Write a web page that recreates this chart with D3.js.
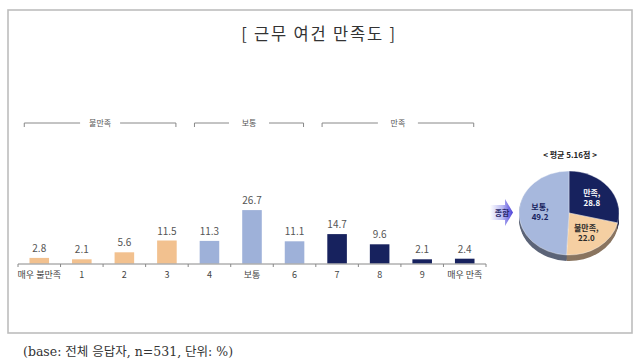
<!DOCTYPE html>
<html><head><meta charset="utf-8">
<script src="https://cdn.jsdelivr.net/npm/d3@7"></script>
<style>body{margin:0;background:#fff}svg{display:block}</style>
</head><body>
<svg id="c" width="640" height="360"></svg>
<script>
const categories = ["매우 불만족","1","2","3","4","보통","6","7","8","9","매우 만족"];
const values = [2.8,2.1,5.6,11.5,11.3,26.7,11.1,14.7,9.6,2.1,2.4];
const groupOf = [0,0,0,0,1,1,1,2,2,2,2];
const groups = [
  {label:"불만족", start:0, end:3},
  {label:"보통", start:4, end:6},
  {label:"만족", start:7, end:10}
];
const pieLabels = ["만족","불만족","보통"];
const pieValues = [28.8,22.0,49.2];
const title = "[ 근무 여건 만족도 ]";
const pieTitle = "< 평균 5.16점 >";
const arrowText = "종합";
const footnote = "(base: 전체 응답자, n=531, 단위: %)";

const barColors = ["#F2C18F","#9EB1D9","#17225E"];
const pieColors = ["#17225E","#F5CFA2","#A7B8DD"];
const pieSide = ["#0e1540","#8a7560","#5c6478"];
const pieText = ["#ffffff","#2a2a2a","#17225E"];
const font = "'Noto Sans CJK KR','Noto Sans',sans-serif";

const svg = d3.select("#c");
// frame
svg.append("rect").attr("x",8).attr("y",10).attr("width",624).attr("height",323)
  .attr("fill","#fff").attr("stroke","#bdbdbd").attr("stroke-width",1.6);

svg.append("text").attr("x",319).attr("y",40).attr("text-anchor","middle")
  .attr("font-family",font).attr("font-size",16.5).attr("fill","#333").attr("letter-spacing",1.8)
  .attr("xml:space","preserve")
  .text(title);

const x = d3.scaleBand().domain(categories).range([18,486]).paddingInner(0.54).paddingOuter(0.27);
const y = d3.scaleLinear().domain([0,30]).range([263.5,203.5]);
const base = 264;

const g = svg.append("g");
g.selectAll("rect.bar").data(values).join("rect")
  .attr("x",(d,i)=>x(categories[i])).attr("width",x.bandwidth())
  .attr("y",d=>y(d)).attr("height",d=>y(0)-y(d))
  .attr("fill",(d,i)=>barColors[groupOf[i]]);

g.selectAll("text.val").data(values).join("text")
  .attr("x",(d,i)=>x(categories[i])+x.bandwidth()/2).attr("y",d=>y(d)-6)
  .attr("text-anchor","middle").attr("font-family",font).attr("font-size",10).attr("fill","#555")
  .text(d=>d.toFixed(1));

// axis
const axis = d3.axisBottom(x).tickSize(0).tickPadding(8);
const ag = svg.append("g").attr("transform",`translate(0,${base})`).call(axis);
ag.select(".domain").attr("stroke","#888").attr("d","M18,0H486");
ag.selectAll("text").attr("font-family",font).attr("font-size",9).attr("fill","#444");
const step = x.step();
const bounds = d3.range(categories.length+1).map(i=>18 + i*step);
ag.selectAll("line.bt").data(bounds).join("line").attr("class","bt")
  .attr("x1",d=>d).attr("x2",d=>d).attr("y1",0).attr("y2",3).attr("stroke","#888");

// group brackets
const by = 123;
groups.forEach(gr=>{
  const x0 = x(categories[gr.start]) + x.bandwidth()/2 - 15;
  const x1 = x(categories[gr.end]) + x.bandwidth()/2 + 9;
  const cx = (x0+x1)/2;
  const gap = 20;
  const bg = svg.append("g").attr("stroke","#888").attr("fill","none").attr("stroke-width",1);
  bg.append("path").attr("d",`M${x0},${by+4}V${by}H${cx-gap}`);
  bg.append("path").attr("d",`M${cx+gap},${by}H${x1}V${by+4}`);
  svg.append("text").attr("x",cx).attr("y",by+3).attr("text-anchor","middle")
    .attr("font-family",font).attr("font-size",8).attr("fill","#555").text(gr.label);
});

// pie
const pcx = 569, pcy = 213, rx = 50, ry = 42, depth = 6;
const pie = d3.pie().sort(null).value(d=>d)(pieValues);
const arc = d3.arc().innerRadius(0).outerRadius(rx);
for(let k=depth;k>=1;k--){
  const lg = svg.append("g").attr("transform",`translate(${pcx},${pcy+k}) scale(1,${ry/rx})`);
  lg.selectAll("path").data(pie).join("path").attr("d",arc).attr("fill",(d,i)=>pieSide[i]);
}
const pieTop = svg.append("g").attr("transform",`translate(${pcx},${pcy}) scale(1,${ry/rx})`);
pieTop.selectAll("path").data(pie).join("path").attr("d",arc).attr("fill",(d,i)=>pieColors[i])
  .attr("stroke","#ffffff").attr("stroke-width",0.4);
const larc = d3.arc().innerRadius(29).outerRadius(29);
pie.forEach((d,i)=>{
  const c = larc.centroid(d);
  const lx = pcx+c[0], ly = pcy+c[1]*ry/rx;
  [pieLabels[i]+",", pieValues[i].toFixed(1)].forEach((s,j)=>{
    svg.append("text").attr("x",lx).attr("y",ly-2+j*10)
      .attr("text-anchor","middle").attr("font-family",font).attr("font-size",8)
      .attr("font-weight","bold").attr("fill",pieText[i]).text(s);
  });
});
svg.append("text").attr("x",570).attr("y",158).attr("text-anchor","middle")
  .attr("font-family",font).attr("font-size",8).attr("font-weight","bold").attr("fill","#222")
  .text(pieTitle);

// arrow
const defs = svg.append("defs");
const grad = defs.append("linearGradient").attr("id","ag").attr("x1","0%").attr("x2","100%");
grad.append("stop").attr("offset","0%").attr("stop-color","#ffffff");
grad.append("stop").attr("offset","55%").attr("stop-color","#b8b8f2");
grad.append("stop").attr("offset","100%").attr("stop-color","#4b3fd8");
svg.append("path").attr("d","M490,205H505V199L513,212.5L505,226V220H490Z").attr("fill","url(#ag)");
svg.append("text").attr("x",502).attr("y",215.5).attr("text-anchor","middle")
  .attr("font-family",font).attr("font-size",8).attr("font-weight","bold").attr("fill","#2a2a6a")
  .text(arrowText);

svg.append("text").attr("x",23).attr("y",356)
  .attr("font-family","'DejaVu Serif','Liberation Serif','Noto Sans CJK KR',serif").attr("font-size",12.5).attr("fill","#333")
  .text(footnote);
</script>
</body></html>
